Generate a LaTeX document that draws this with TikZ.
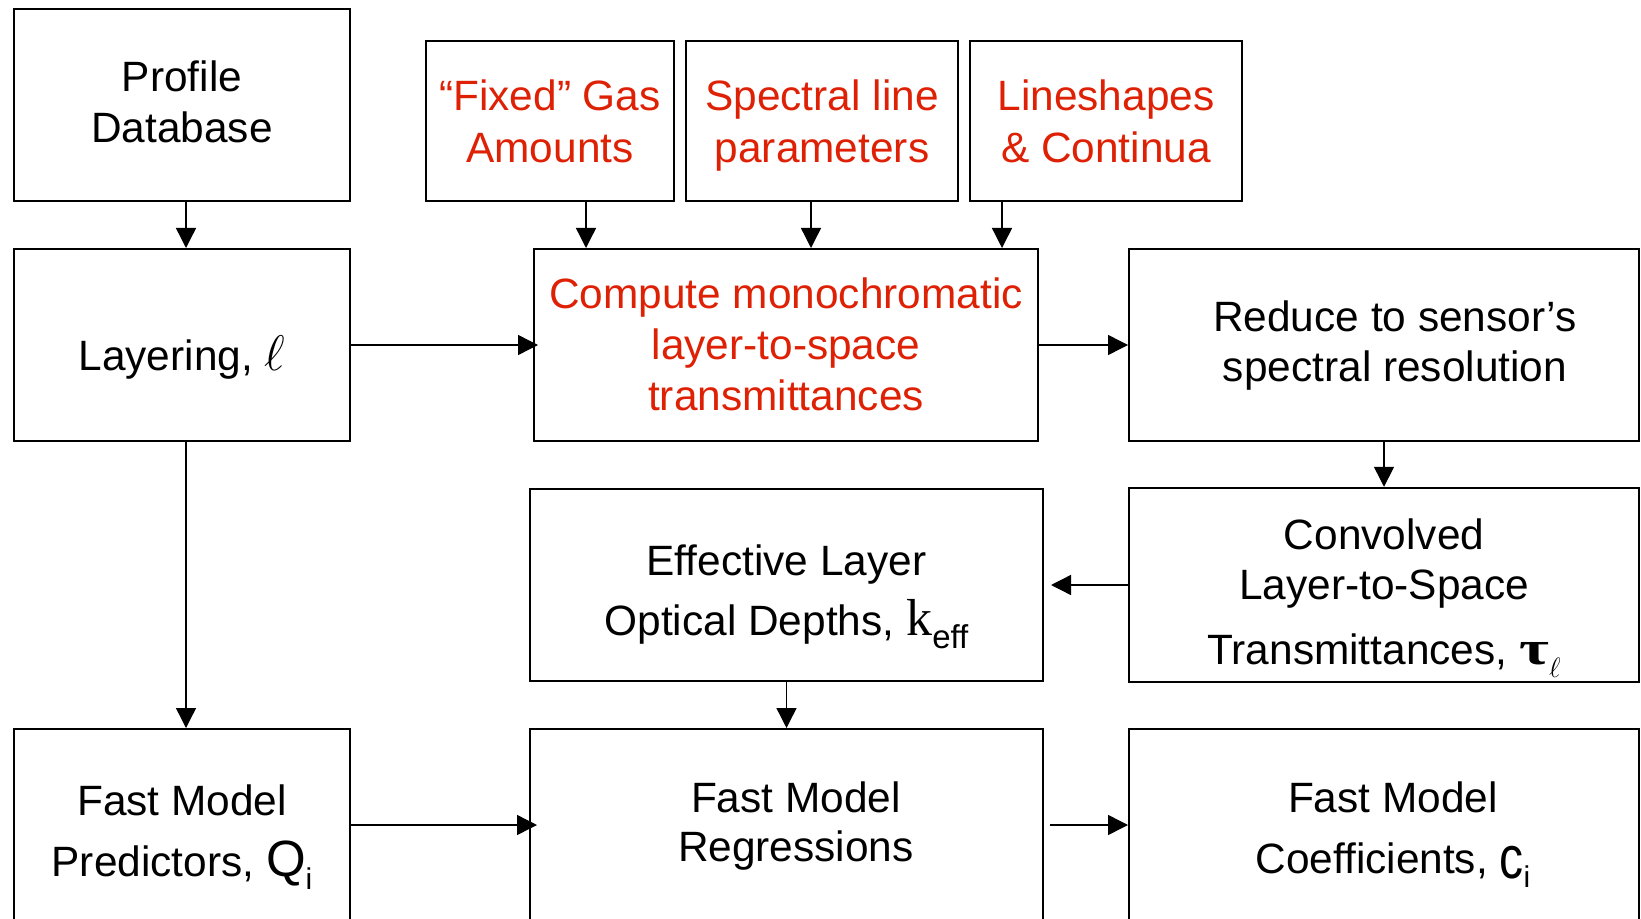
\RequirePackage{fix-cm}
\documentclass[tikz,border=0pt]{standalone}
\usepackage{fontspec}
\usepackage{graphicx}
\setmainfont{Liberation Sans}
\newfontfamily\serifrm{Liberation Serif}
\usetikzlibrary{arrows.meta}
\definecolor{flowred}{RGB}{222,33,5}

% invisible struts that set where the lines sit inside a box
\newcommand\upst[1]{\rule{0pt}{#1}}
\newcommand\dnst{\rule[-9pt]{0pt}{9pt}}

% symbols with their subscripts
\newcommand\lyr{{\fontsize{25}{25}\selectfont$\ell$}}
\newcommand\keff{{\serifrm\fontsize{26}{26}\selectfont k}\raisebox{-6.5pt}{\fontsize{16.5}{16.5}\selectfont eff}}
\newcommand\taul{{\serifrm\bfseries\fontsize{24}{24}\selectfont\scalebox{1.35}[1]{τ}}\raisebox{-6.5pt}{\fontsize{14}{14}\selectfont$\ell$}}
\newcommand\Qi{{\fontsize{25.5}{25.5}\selectfont Q}\raisebox{-6.5pt}{\fontsize{15}{15}\selectfont i}}
\newcommand\ci{\raisebox{-2.5pt}{\fontsize{24}{24}\selectfont\scalebox{1}[1.25]{c}}\raisebox{-7pt}{\fontsize{15}{15}\selectfont i}}

\begin{document}
\begin{tikzpicture}[x=0.5pt,y=-0.5pt,
  box/.style={draw, line width=1pt, align=center, inner sep=0pt,
    font=\fontsize{21.2}{25.5}\selectfont},
  wide/.style={minimum width=168pt, minimum height=96pt},
  redtxt/.style={text=flowred},
  arrow/.style={line width=0.7pt, -{Triangle[length=10pt,width=10pt]}}]
\useasboundingbox (0,0) rectangle (1641,919);

% top row: inputs
\node[box, wide] (profile) at (182,105) {\upst{21.2pt}Profile\\Database\dnst};
\node[box, redtxt, minimum width=124pt, minimum height=80pt] (fixed) at (550,121)
  {\upst{24.2pt}“Fixed” Gas\\[0.6pt]Amounts\dnst};
\node[box, redtxt, minimum width=136pt, minimum height=80pt] (spectral) at (822,121)
  {\upst{24.2pt}Spectral line\\[0.6pt]parameters\dnst};
\node[box, redtxt, minimum width=136pt, minimum height=80pt] (lineshapes) at (1106,121)
  {\upst{24.2pt}Lineshapes\\[0.6pt]\& Continua\dnst};

% second row
\node[box, wide] (layering) at (182,345) {\upst{34pt}Layering, \lyr\dnst};
\node[box, redtxt, minimum width=252pt, minimum height=96pt] (compute) at (786,345)
  {\upst{23.35pt}Compute monochromatic\\layer-to-space\\transmittances\dnst};
\node[box, minimum width=255pt, minimum height=96pt] (reduce) at (1384,345)
  {\hspace*{11pt}\upst{20.7pt}Reduce to sensor’s\\[-0.5pt]\hspace*{11pt}spectral resolution\dnst};

% third row
\node[box, minimum width=256.5pt, minimum height=96pt] (effective) at (786.5,585)
  {\upst{29pt}Effective Layer\\[4.5pt]Optical Depths, \keff\dnst};
\node[box, minimum width=255pt, minimum height=96pt] (convolved) at (1384,585)
  {\upst{31pt}Convolved\\[-0.8pt]Layer-to-Space\\[7pt]Transmittances, \taul\dnst};

% bottom row
\node[box, wide] (predictors) at (182,825)
  {\upst{29.8pt}Fast Model\\[5.3pt]Predictors, \Qi\dnst};
\node[box, minimum width=256.5pt, minimum height=96pt] (regressions) at (786.5,825)
  {\hspace*{9.4pt}\upst{21pt}Fast Model\\[-0.8pt]\hspace*{9.4pt}Regressions\dnst};
\node[box, minimum width=255pt, minimum height=96pt] (coefficients) at (1384,825)
  {\hspace*{8.9pt}\upst{26.8pt}Fast Model\\[5pt]\hspace*{8.9pt}Coefficients, \ci\dnst};

% x positions of the vertical connectors
\coordinate (xa) at (186,0);
\coordinate (xb) at (586,0);
\coordinate (xc) at (811,0);
\coordinate (xd) at (1002,0);

\draw[arrow] (profile.south -| xa) -- (layering.north -| xa);
\draw[arrow] (fixed.south -| xb) -- (compute.north -| xb);
\draw[arrow] (spectral.south -| xc) -- (compute.north -| xc);
\draw[arrow] (lineshapes.south -| xd) -- (compute.north -| xd);
\draw[arrow, shorten >=-2.5pt] (layering.east) -- (compute.west);
\draw[arrow] (compute.east) -- (reduce.west);
\draw[arrow] (reduce.south) -- (convolved.north);
\draw[arrow, shorten >=3.5pt] (convolved.west) -- (effective.east);
\draw[arrow] (effective.south) -- (regressions.north);
\draw[arrow] (layering.south -| xa) -- (predictors.north -| xa);
\draw[arrow, shorten >=-4pt] (predictors.east) -- (regressions.west);
\draw[arrow, shorten <=3pt] (regressions.east) -- (coefficients.west);
\end{tikzpicture}
\end{document}
